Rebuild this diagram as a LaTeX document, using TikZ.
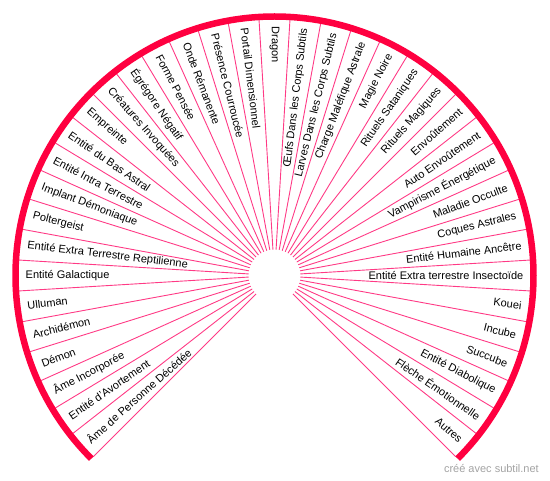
\documentclass[tikz,border=0pt]{standalone}
\usepackage{fontspec}
\setmainfont{Liberation Sans}
\definecolor{arcred}{HTML}{FF0040}
\definecolor{spokecol}{HTML}{FF3A85}
\definecolor{creditcol}{HTML}{A3A3A3}
\tikzset{
  spokeline/.style={spokecol, line width=0.9pt},
  rimarc/.style={arcred, line width=6.5pt},
  lbl/.style={inner sep=0pt, text=black, font=\fontsize{11}{13}\selectfont},
  creditlbl/.style={inner sep=0pt, text=creditcol, font=\fontsize{11}{13}\selectfont}
}
\begin{document}
\begin{tikzpicture}[x=1pt,y=1pt]
\useasboundingbox (0,-481) rectangle (550,0);
\coordinate (C) at (274.5,-275.5);
\foreach \k in {0,...,39} {
  \pgfmathsetmacro\a{225-\k*270/39}
  \coordinate (in\k) at ([shift={(\a:26)}]C);
  \coordinate (out\k) at ([shift={(\a:256)}]C);
  \draw[spokeline] (in\k) -- (out\k);
}
\coordinate (arcstart) at ([shift={(225:259)}]C);
\draw[rimarc] (arcstart) arc[start angle=225, end angle=-45, radius=259];
\foreach \lab [count=\i] in {%
Âme de Personne Décédée,
Entité d'Avortement,
Âme Incorporée,
Démon,
Archidémon,
Ulluman,
Entité Galactique,
Entité Extra Terrestre Reptilienne,
Poltergeist,
Implant Démoniaque,
Entité Intra Terrestre,
Entité du Bas Astral,
Empreinte,
Créatures Invoquées,
Égrégore Négatif,
Forme Pensée,
Onde Rémanente,
Présence Courroucée,
Portail Dimensionnel,
Dragon,
Œufs Dans les Corps Subtils,
Larves Dans les Corps Subtils,
Charge Maléfique Astrale,
Magie Noire,
Rituels Sataniques,
Rituels Magiques,
Envoûtement,
Auto Envoûtement,
Vampirisme Énergétique,
Maladie Occulte,
Coques Astrales,
Entité Humaine Ancêtre,
Entité Extra terrestre Insectoïde,
Kouei,
Incube,
Succube,
Entité Diabolique,
Flèche Émotionnelle,
Autres} {
  \pgfmathsetmacro\t{225-(\i-0.5)*270/39}
  \coordinate (p\i) at ([shift={(\t:249)}]C);
  \ifdim\t pt<89.9pt
    \node[lbl, anchor=east, rotate=\t] (L\i) at (p\i) {\lab};
  \else
    \pgfmathsetmacro\r{\t-180}
    \node[lbl, anchor=west, rotate=\r] (L\i) at (p\i) {\lab};
  \fi
}
\node[creditlbl, anchor=base east] (credit) at (539,-473) {créé avec subtil.net};
\end{tikzpicture}
\end{document}
